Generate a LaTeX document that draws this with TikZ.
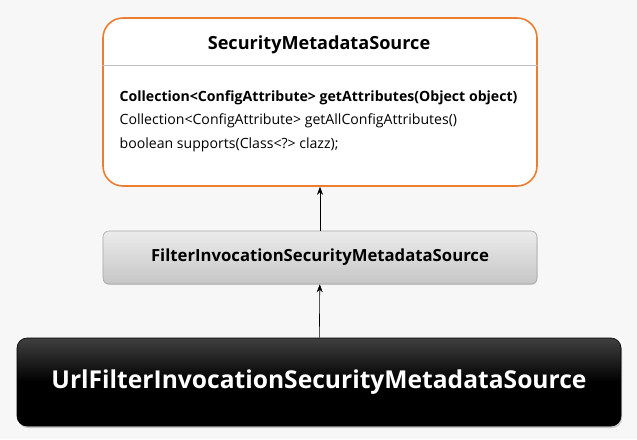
\documentclass[tikz,border=0pt]{standalone}
\usepackage{fontspec}
\setmainfont{Open Sans}
\usetikzlibrary{arrows.meta,shadows}

\definecolor{bggray}{HTML}{F7F7F7}
\definecolor{boxorange}{HTML}{ED7D31}
\definecolor{linegray}{HTML}{BFBFBF}

\begin{document}
\begin{tikzpicture}[x=1pt,y=-1pt,>={Stealth[length=8pt,width=6pt]},semithick,
    iface/.style={draw=boxorange,line width=1.6pt,fill=white,rounded corners=20pt,
                  minimum width=434pt,minimum height=168pt},
    absbox/.style={draw=gray!70,top color=gray!15,bottom color=gray!45,rounded corners=6pt,
                   minimum width=434pt,minimum height=53pt,font=\fontsize{16.7}{19}\selectfont\bfseries,
                   drop shadow={shadow xshift=0.5pt,shadow yshift=-1pt,opacity=0.25}},
    implbox/.style={draw=black,top color=black!75,bottom color=black,middle color=black,
                    rounded corners=10pt,minimum width=604pt,minimum height=88pt,
                    text=white,font=\fontsize{24.6}{28}\selectfont\bfseries,
                    drop shadow={shadow xshift=1pt,shadow yshift=-2pt,opacity=0.4}}]
  \fill[bggray] (0,0) rectangle (637,439);
  \useasboundingbox (0,0) rectangle (637,439);

  \node[iface] (sms) at (320,102) {};
  \node[font=\fontsize{18.1}{21}\selectfont\bfseries] (smstitle) at (319,45) {SecurityMetadataSource};
  \draw[linegray,thin] (sms.west |- 0,65) -- (sms.east |- 0,65);
  \node[anchor=west,font=\fontsize{14.1}{16}\selectfont\bfseries] (m1) at (116,98)
    {Collection<ConfigAttribute> getAttributes(Object object)};
  \node[anchor=west,font=\fontsize{14.1}{16}\selectfont] (m2) at (116,121)
    {Collection<ConfigAttribute> getAllConfigAttributes()};
  \node[anchor=west,font=\fontsize{14.1}{16}\selectfont] (m3) at (116,145)
    {boolean supports(Class<?> clazz);};

  \node[absbox] (fism) at (320,257.5) {FilterInvocationSecurityMetadataSource};
  \node[implbox] (ufism) at (319,382) {UrlFilterInvocationSecurityMetadataSource};

  \draw[->] (fism) -- (sms);
  \draw[->] (ufism) -- (fism);
\end{tikzpicture}
\end{document}
